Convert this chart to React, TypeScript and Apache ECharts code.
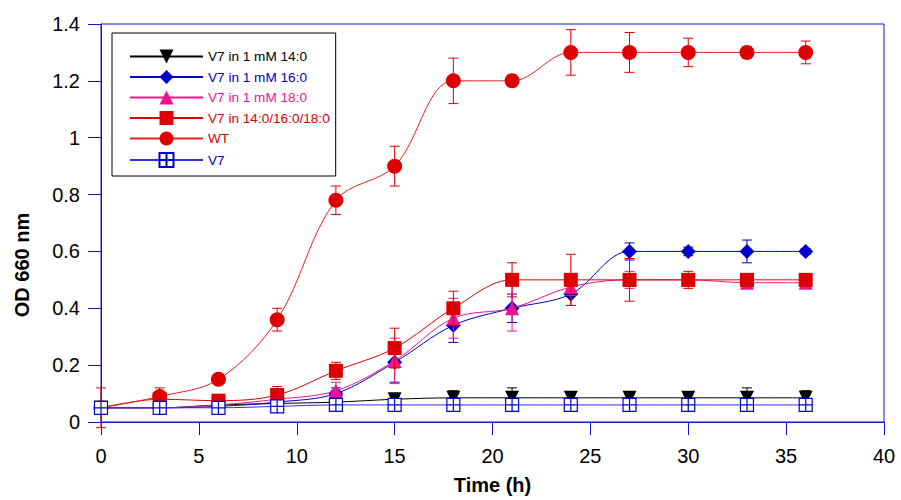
import React, { useEffect, useRef } from "react";
import * as echarts from "echarts";

const time = [0, 3, 6, 9, 12, 15, 18, 21, 24, 27, 30, 33, 36];
const xTicks = [0, 5, 10, 15, 20, 25, 30, 35, 40];
const yTicks = [0, 0.2, 0.4, 0.6, 0.8, 1, 1.2, 1.4];

const names = [
  "V7 in 1 mM 14:0",
  "V7 in 1 mM 16:0",
  "V7 in 1 mM 18:0",
  "V7 in 14:0/16:0/18:0",
  "WT",
  "V7",
];

const c14 = [0.05, 0.05, 0.06, 0.065, 0.07, 0.08, 0.085, 0.085, 0.085, 0.085, 0.085, 0.085, 0.085];
const e14 = [0.01, 0.01, 0.01, 0.01, 0.01, 0.01, 0.025, 0.035, 0.01, 0.01, 0.01, 0.035, 0.025];
const c16 = [0.05, 0.05, 0.055, 0.07, 0.1, 0.21, 0.34, 0.4, 0.45, 0.6, 0.6, 0.6, 0.6];
const e16 = [0.01, 0.01, 0.01, 0.02, 0.02, 0.07, 0.06, 0.05, 0.04, 0.03, 0.015, 0.04, 0.01];
const c18 = [0.05, 0.05, 0.06, 0.08, 0.11, 0.215, 0.365, 0.4, 0.475, 0.5, 0.5, 0.49, 0.49];
const e18 = [0.01, 0.02, 0.02, 0.03, 0.03, 0.08, 0.07, 0.08, 0.03, 0.03, 0.02, 0.02, 0.02];
const cMix = [0.05, 0.08, 0.075, 0.095, 0.18, 0.26, 0.4, 0.5, 0.5, 0.5, 0.5, 0.5, 0.5];
const eMix = [0.02, 0.02, 0.02, 0.03, 0.03, 0.07, 0.06, 0.06, 0.09, 0.075, 0.03, 0.02, 0.02];
const cWT = [0.05, 0.09, 0.15, 0.36, 0.78, 0.9, 1.2, 1.2, 1.3, 1.3, 1.3, 1.3, 1.3];
const eWT = [0.07, 0.03, 0.01, 0.04, 0.05, 0.07, 0.08, 0.02, 0.08, 0.07, 0.05, 0.02, 0.04];
const cV7 = [0.05, 0.05, 0.05, 0.055, 0.06, 0.06, 0.06, 0.06, 0.06, 0.06, 0.06, 0.06, 0.06];
const eV7 = [0.02, 0.02, 0.02, 0.02, 0.01, 0.01, 0.01, 0.01, 0.01, 0.01, 0.01, 0.01, 0.01];

const FONT = "'Liberation Sans', Arial, Helvetica, sans-serif";
const AXIS = "#1414d8";

type Spec = {
  name: string;
  vals: number[];
  errs: number[];
  color: string;
  lineColor: string;
  textColor: string;
  symbol: string;
  size: number;
  rotate?: number;
  fill?: string;
};

const specs: Spec[] = [
  { name: names[0], vals: c14, errs: e14, color: "#000000", lineColor: "#000000", textColor: "#000000", symbol: "triangle", size: 14, rotate: 180 },
  { name: names[1], vals: c16, errs: e16, color: "#0000cc", lineColor: "#0000d0", textColor: "#0000cc", symbol: "diamond", size: 15 },
  { name: names[2], vals: c18, errs: e18, color: "#f0148c", lineColor: "#f0148c", textColor: "#f0148c", symbol: "triangle", size: 14 },
  { name: names[3], vals: cMix, errs: eMix, color: "#dd0000", lineColor: "#dd0000", textColor: "#dd0000", symbol: "rect", size: 14 },
  { name: names[4], vals: cWT, errs: eWT, color: "#dd0000", lineColor: "#e82020", textColor: "#dd0000", symbol: "circle", size: 15 },
  { name: names[5], vals: cV7, errs: eV7, color: "#0000cc", lineColor: "#3030e0", textColor: "#0000cc", symbol: "path://M0,0L10,0L10,10L0,10Z M5,0L5,10 M0,5L10,5", size: 13, fill: "#ffffff" },
];

export default function App() {
  const ref = useRef<HTMLDivElement>(null);
  useEffect(() => {
    if (!ref.current) return;
    const chart = echarts.init(ref.current, undefined, { renderer: "svg" });

    const series: any[] = [];
    specs.forEach((s, idx) => {
      series.push({
        type: "custom",
        name: s.name + " err",
        z: 2 + idx * 2,
        data: time.map((t, i) => [t, s.vals[i], s.errs[i]]),
        encode: { x: 0, y: 1 },
        silent: true,
        renderItem: (params: any, api: any) => {
          const x = api.value(0);
          const y = api.value(1);
          const e = api.value(2);
          const top = api.coord([x, y + e]);
          const bot = api.coord([x, y - e]);
          const w = 5;
          const st = { stroke: s.color, lineWidth: 1 };
          return {
            type: "group",
            children: [
              { type: "line", shape: { x1: top[0], y1: top[1], x2: bot[0], y2: bot[1] }, style: st },
              { type: "line", shape: { x1: top[0] - w, y1: top[1], x2: top[0] + w, y2: top[1] }, style: st },
              { type: "line", shape: { x1: bot[0] - w, y1: bot[1], x2: bot[0] + w, y2: bot[1] }, style: st },
            ],
          };
        },
      });
      series.push({
        type: "line",
        name: s.name,
        z: 3 + idx * 2,
        data: time.map((t, i) => [t, s.vals[i]]),
        smooth: 0.35,
        symbol: s.symbol,
        symbolSize: s.size,
        symbolRotate: s.rotate || 0,
        showAllSymbol: true,
        lineStyle: { color: s.lineColor, width: 1 },
        itemStyle: s.fill
          ? { color: s.fill, borderColor: s.color, borderWidth: 1.2 }
          : { color: s.color, borderWidth: 0 },
        emphasis: { disabled: true },
      });
    });

    chart.setOption({
      animation: false,
      backgroundColor: "#ffffff",
      textStyle: { fontFamily: FONT },
      grid: {
        left: 101,
        right: 17,
        top: 24,
        bottom: 77.5,
        show: true,
        borderColor: AXIS,
        borderWidth: 1,
        backgroundColor: "transparent",
      },
      legend: {
        orient: "vertical",
        left: 112,
        top: 33,
        padding: [16.5, 6, 8, 17],
        itemWidth: 73,
        itemHeight: 17.5,
        itemGap: 6.5,
        backgroundColor: "#ffffff",
        borderColor: "#000000",
        borderWidth: 1,
        borderRadius: 0,
        selectedMode: false,
        textStyle: { fontFamily: FONT, fontSize: 13.6 },
        data: specs.map((s) => ({ name: s.name, textStyle: { color: s.textColor } })),
      },
      xAxis: {
        type: "value",
        min: 0,
        max: 40,
        interval: 5,
        name: "Time (h)",
        nameLocation: "middle",
        nameGap: 53,
        nameTextStyle: { fontFamily: FONT, fontSize: 20, fontWeight: "bold", color: "#000" },
        axisLine: { show: true, onZero: false, lineStyle: { color: AXIS, width: 1 } },
        axisTick: { show: true, inside: false, length: 13, lineStyle: { color: AXIS } },
        axisLabel: {
          margin: 24,
          fontFamily: FONT,
          fontSize: 20,
          color: "#000",
          formatter: (v: number) => (xTicks.includes(v) ? String(v) : ""),
        },
        splitLine: { show: false },
      },
      yAxis: {
        type: "value",
        min: 0,
        max: 1.4,
        interval: 0.2,
        axisLine: { show: true, onZero: false, lineStyle: { color: AXIS, width: 1 } },
        axisTick: { show: true, inside: false, length: 13, lineStyle: { color: AXIS } },
        axisLabel: {
          margin: 21,
          fontFamily: FONT,
          fontSize: 20,
          color: "#000",
          formatter: (v: number) => {
            const r = Math.round(v * 10) / 10;
            const m = yTicks.find((t) => Math.abs(t - r) < 1e-6);
            return m === undefined ? "" : String(m);
          },
        },
        splitLine: { show: false },
      },
      graphic: [
        {
          type: "text",
          x: 22,
          y: 265,
          rotation: Math.PI / 2,
          style: {
            text: "OD 660 nm",
            fontFamily: FONT,
            fontSize: 20,
            fontWeight: "bold",
            fill: "#000",
            align: "center",
            verticalAlign: "middle",
          },
        },
      ],
      series,
    });

    return () => chart.dispose();
  }, []);

  return <div ref={ref} style={{ width: 901, height: 500, position: "absolute", left: 0, top: 0 }} />;
}
